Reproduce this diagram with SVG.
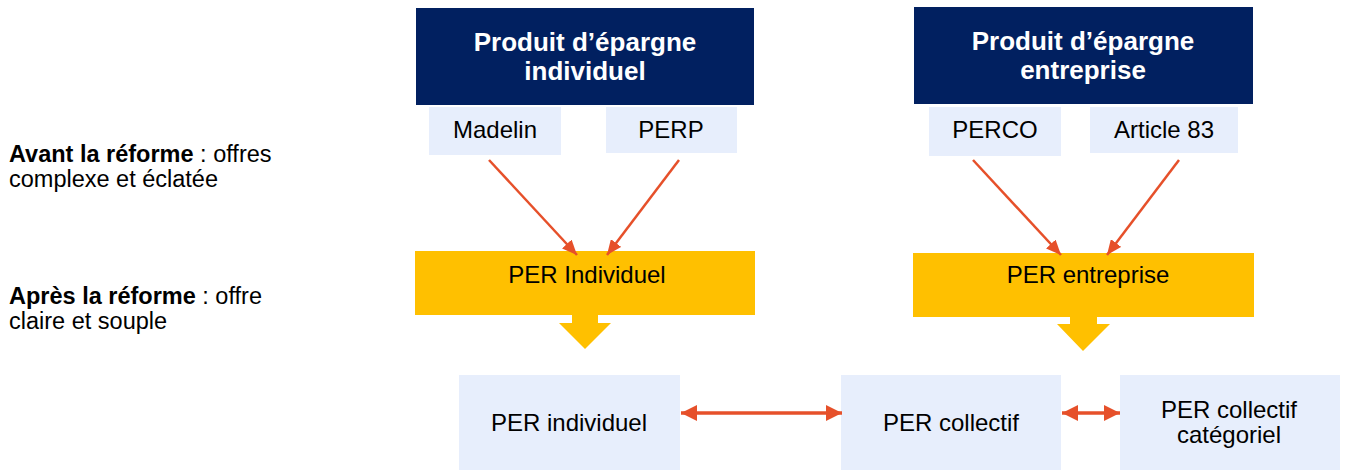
<svg xmlns="http://www.w3.org/2000/svg" width="1346" height="470" viewBox="0 0 1346 470">
  <style>
    text { font-family: "Liberation Sans", Arial, Helvetica, sans-serif; fill: #000000; }
    .head { fill: #012060; }
    .head-text { fill: #ffffff; font-size: 26px; font-weight: bold; text-anchor: middle; }
    .sub { fill: #E7EEFC; }
    .result { fill: #FFC000; }
    .label { font-size: 24px; text-anchor: middle; }
    .side { font-size: 23.5px; }
    .link { stroke: #E6502A; stroke-width: 2.5; fill: none; }
    .link2 { stroke: #E6502A; stroke-width: 3.5; fill: none; }
  </style>
  <defs>
    <marker id="tip" markerUnits="userSpaceOnUse" viewBox="0 0 15 13" refX="15" refY="6.5" markerWidth="15" markerHeight="13" orient="auto">
      <path d="M0,0 L15,6.5 L0,13 Z" fill="#E6502A"/>
    </marker>
    <marker id="tip2" markerUnits="userSpaceOnUse" viewBox="0 0 16 16" refX="16" refY="8" markerWidth="16" markerHeight="16" orient="auto-start-reverse">
      <path d="M0,0 L16,8 L0,16 Z" fill="#E6502A"/>
    </marker>
  </defs>

  <!-- side captions -->
  <g id="caption-before">
    <text class="side" x="9" y="162"><tspan font-weight="bold">Avant la réforme</tspan> : offres</text>
    <text class="side" x="9" y="187">complexe et éclatée</text>
  </g>
  <g id="caption-after">
    <text class="side" x="9" y="304"><tspan font-weight="bold">Après la réforme</tspan> : offre</text>
    <text class="side" x="9" y="329">claire et souple</text>
  </g>

  <!-- headers -->
  <g id="header-individuel">
    <rect class="head" x="416" y="8" width="338" height="97"/>
    <text class="head-text" x="585" y="51">Produit d’épargne</text>
    <text class="head-text" x="585" y="80">individuel</text>
  </g>
  <g id="header-entreprise">
    <rect class="head" x="914" y="7" width="339" height="97"/>
    <text class="head-text" x="1083" y="50">Produit d’épargne</text>
    <text class="head-text" x="1083" y="79">entreprise</text>
  </g>

  <!-- former products -->
  <g id="madelin">
    <rect class="sub" x="429" y="107" width="132" height="48"/>
    <text class="label" x="495" y="138">Madelin</text>
  </g>
  <g id="perp">
    <rect class="sub" x="606" y="107" width="131" height="46"/>
    <text class="label" x="671" y="138">PERP</text>
  </g>
  <g id="perco">
    <rect class="sub" x="929" y="107" width="132" height="49"/>
    <text class="label" x="995" y="138">PERCO</text>
  </g>
  <g id="article83">
    <rect class="sub" x="1090" y="107" width="148" height="46"/>
    <text class="label" x="1164" y="138">Article 83</text>
  </g>

  <!-- new PER families -->
  <g id="per-individuel-band">
    <rect class="result" x="415" y="251" width="340" height="64"/>
    <path class="result" d="M572,315 L598,315 L598,323 L611,323 L585,349 L559,323 L572,323 Z"/>
    <text class="label" x="587" y="283">PER Individuel</text>
  </g>
  <g id="per-entreprise-band">
    <rect class="result" x="913" y="253" width="341" height="64"/>
    <path class="result" d="M1070,317 L1097,317 L1097,324 L1110,324 L1083,351 L1057,324 L1070,324 Z"/>
    <text class="label" x="1088" y="283">PER entreprise</text>
  </g>

  <!-- resulting products -->
  <g id="per-individuel">
    <rect class="sub" x="459" y="375" width="221" height="95"/>
    <text class="label" x="569" y="431">PER individuel</text>
  </g>
  <g id="per-collectif">
    <rect class="sub" x="841" y="375" width="220" height="95"/>
    <text class="label" x="951" y="431">PER collectif</text>
  </g>
  <g id="per-collectif-categoriel">
    <rect class="sub" x="1120" y="375" width="220" height="95"/>
    <text class="label" x="1229" y="418">PER collectif</text>
    <text class="label" x="1229" y="443">catégoriel</text>
  </g>

  <!-- connectors -->
  <g id="connectors">
    <line class="link" x1="489" y1="160" x2="577" y2="255" marker-end="url(#tip)"/>
    <line class="link" x1="679" y1="160" x2="607" y2="255" marker-end="url(#tip)"/>
    <line class="link" x1="973" y1="160" x2="1061" y2="255" marker-end="url(#tip)"/>
    <line class="link" x1="1179" y1="160" x2="1107" y2="255" marker-end="url(#tip)"/>
    <line class="link2" x1="681" y1="413" x2="842" y2="413" marker-start="url(#tip2)" marker-end="url(#tip2)"/>
    <line class="link2" x1="1062" y1="413" x2="1120" y2="413" marker-start="url(#tip2)" marker-end="url(#tip2)"/>
  </g>
</svg>
